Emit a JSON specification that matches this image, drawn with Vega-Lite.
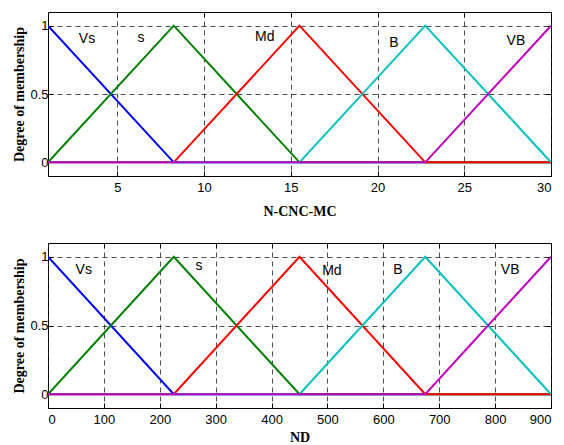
{
  "$schema": "https://vega.github.io/schema/vega-lite/v6.json",
  "padding": {"left": 12, "top": 11, "right": 0, "bottom": 2},
  "spacing": 23,
  "config": {
    "view": {"stroke": "black", "strokeWidth": 1},
    "axis": {
      "domain": false,
      "tickColor": "black",
      "tickSize": -5,
      "labelFont": "Liberation Sans",
      "labelFontSize": 13,
      "labelColor": "black",
      "labelPadding": 10,
      "titleFont": "Liberation Serif",
      "titleFontWeight": "bold",
      "titleFontSize": 14,
      "titleColor": "black",
      "gridColor": "#222222",
      "gridDash": [5, 4],
      "gridOpacity": 0.8
    },
    "text": {"font": "Liberation Sans", "fontSize": 14}
  },
  "datasets": {
    "top": [
      {"mf": "Vs", "x": 1, "y": 1}, {"mf": "Vs", "x": 8.25, "y": 0}, {"mf": "Vs", "x": 30, "y": 0},
      {"mf": "s", "x": 1, "y": 0}, {"mf": "s", "x": 8.25, "y": 1}, {"mf": "s", "x": 15.5, "y": 0}, {"mf": "s", "x": 30, "y": 0},
      {"mf": "Md", "x": 1, "y": 0}, {"mf": "Md", "x": 8.25, "y": 0}, {"mf": "Md", "x": 15.5, "y": 1}, {"mf": "Md", "x": 22.75, "y": 0}, {"mf": "Md", "x": 30, "y": 0},
      {"mf": "B", "x": 1, "y": 0}, {"mf": "B", "x": 15.5, "y": 0}, {"mf": "B", "x": 22.75, "y": 1}, {"mf": "B", "x": 30, "y": 0},
      {"mf": "VB", "x": 1, "y": 0}, {"mf": "VB", "x": 22.75, "y": 0}, {"mf": "VB", "x": 30, "y": 1}
    ],
    "topLabels": [
      {"label": "Vs", "x": 3.25, "y": 0.9},
      {"label": "s", "x": 6.36, "y": 0.91},
      {"label": "Md", "x": 13.5, "y": 0.92},
      {"label": "B", "x": 20.95, "y": 0.87},
      {"label": "VB", "x": 27.98, "y": 0.89}
    ],
    "bottom": [
      {"mf": "Vs", "x": 0, "y": 1}, {"mf": "Vs", "x": 225, "y": 0}, {"mf": "Vs", "x": 900, "y": 0},
      {"mf": "s", "x": 0, "y": 0}, {"mf": "s", "x": 225, "y": 1}, {"mf": "s", "x": 450, "y": 0}, {"mf": "s", "x": 900, "y": 0},
      {"mf": "Md", "x": 0, "y": 0}, {"mf": "Md", "x": 225, "y": 0}, {"mf": "Md", "x": 450, "y": 1}, {"mf": "Md", "x": 675, "y": 0}, {"mf": "Md", "x": 900, "y": 0},
      {"mf": "B", "x": 0, "y": 0}, {"mf": "B", "x": 450, "y": 0}, {"mf": "B", "x": 675, "y": 1}, {"mf": "B", "x": 900, "y": 0},
      {"mf": "VB", "x": 0, "y": 0}, {"mf": "VB", "x": 675, "y": 0}, {"mf": "VB", "x": 900, "y": 1}
    ],
    "bottomLabels": [
      {"label": "Vs", "x": 64, "y": 0.906},
      {"label": "s", "x": 270, "y": 0.935},
      {"label": "Md", "x": 508, "y": 0.9},
      {"label": "B", "x": 626, "y": 0.906},
      {"label": "VB", "x": 827, "y": 0.906}
    ]
  },
  "vconcat": [
    {
      "width": 503,
      "height": 164,
      "layer": [
        {
          "data": {"name": "top"},
          "encoding": {
            "x": {"field": "x", "type": "quantitative", "scale": {"domain": [1, 30], "nice": false, "zero": false},
                  "axis": {"orient": "bottom", "values": [5, 10, 15, 20, 25, 30], "grid": true, "title": "N-CNC-MC", "titlePadding": 10}},
            "y": {"field": "y", "type": "quantitative", "scale": {"domain": [-0.1, 1.1], "nice": false},
                  "axis": {"orient": "left", "values": [0, 0.5, 1], "format": "~g", "grid": true, "labelPadding": 5, "title": "Degree of membership", "titlePadding": 3}},
            "color": {"field": "mf", "type": "nominal",
                      "scale": {"domain": ["Vs", "s", "Md", "B", "VB"], "range": ["#0000FF", "#008000", "#FF0000", "#00BFBF", "#BF00BF"]}, "legend": null}
          },
          "layer": [
            {"transform": [{"filter": "datum.mf === 'Vs'"}], "mark": {"type": "line", "strokeWidth": 2, "clip": true}},
            {"transform": [{"filter": "datum.mf === 's'"}], "mark": {"type": "line", "strokeWidth": 2, "clip": true}},
            {"transform": [{"filter": "datum.mf === 'Md'"}], "mark": {"type": "line", "strokeWidth": 2, "clip": true}},
            {"transform": [{"filter": "datum.mf === 'B'"}], "mark": {"type": "line", "strokeWidth": 2, "clip": true}},
            {"transform": [{"filter": "datum.mf === 'VB'"}], "mark": {"type": "line", "strokeWidth": 2, "clip": true}}
          ]
        },
        {
          "data": {"name": "topLabels"},
          "mark": {"type": "text", "color": "black"},
          "encoding": {
            "x": {"field": "x", "type": "quantitative", "scale": {"domain": [1, 30], "nice": false, "zero": false},
                  "axis": {"orient": "top", "values": [5, 10, 15, 20, 25, 30], "labels": false, "grid": false, "title": null}},
            "y": {"field": "y", "type": "quantitative", "scale": {"domain": [-0.1, 1.1], "nice": false},
                  "axis": {"orient": "right", "values": [0, 0.5, 1], "labels": false, "grid": false, "title": null}},
            "text": {"field": "label"}
          }
        }
      ],
      "resolve": {"axis": {"x": "independent", "y": "independent"}}
    },
    {
      "width": 503,
      "height": 165,
      "layer": [
        {
          "data": {"name": "bottom"},
          "encoding": {
            "x": {"field": "x", "type": "quantitative", "scale": {"domain": [0, 900], "nice": false},
                  "axis": {"orient": "bottom", "values": [0, 100, 200, 300, 400, 500, 600, 700, 800, 900], "grid": true, "title": "ND", "titlePadding": 4}},
            "y": {"field": "y", "type": "quantitative", "scale": {"domain": [-0.1, 1.1], "nice": false},
                  "axis": {"orient": "left", "values": [0, 0.5, 1], "format": "~g", "grid": true, "labelPadding": 5, "title": "Degree of membership", "titlePadding": 3}},
            "color": {"field": "mf", "type": "nominal",
                      "scale": {"domain": ["Vs", "s", "Md", "B", "VB"], "range": ["#0000FF", "#008000", "#FF0000", "#00BFBF", "#A020B0"]}, "legend": null}
          },
          "layer": [
            {"transform": [{"filter": "datum.mf === 'Vs'"}], "mark": {"type": "line", "strokeWidth": 2, "clip": true}},
            {"transform": [{"filter": "datum.mf === 's'"}], "mark": {"type": "line", "strokeWidth": 2, "clip": true}},
            {"transform": [{"filter": "datum.mf === 'Md'"}], "mark": {"type": "line", "strokeWidth": 2, "clip": true}},
            {"transform": [{"filter": "datum.mf === 'B'"}], "mark": {"type": "line", "strokeWidth": 2, "clip": true}},
            {"transform": [{"filter": "datum.mf === 'VB'"}], "mark": {"type": "line", "strokeWidth": 2, "clip": true}}
          ]
        },
        {
          "data": {"name": "bottomLabels"},
          "mark": {"type": "text", "color": "black"},
          "encoding": {
            "x": {"field": "x", "type": "quantitative", "scale": {"domain": [0, 900], "nice": false},
                  "axis": {"orient": "top", "values": [100, 200, 300, 400, 500, 600, 700, 800, 900], "labels": false, "grid": false, "title": null}},
            "y": {"field": "y", "type": "quantitative", "scale": {"domain": [-0.1, 1.1], "nice": false},
                  "axis": {"orient": "right", "values": [0, 0.5, 1], "labels": false, "grid": false, "title": null}},
            "text": {"field": "label"}
          }
        }
      ],
      "resolve": {"axis": {"x": "independent", "y": "independent"}}
    }
  ]
}
